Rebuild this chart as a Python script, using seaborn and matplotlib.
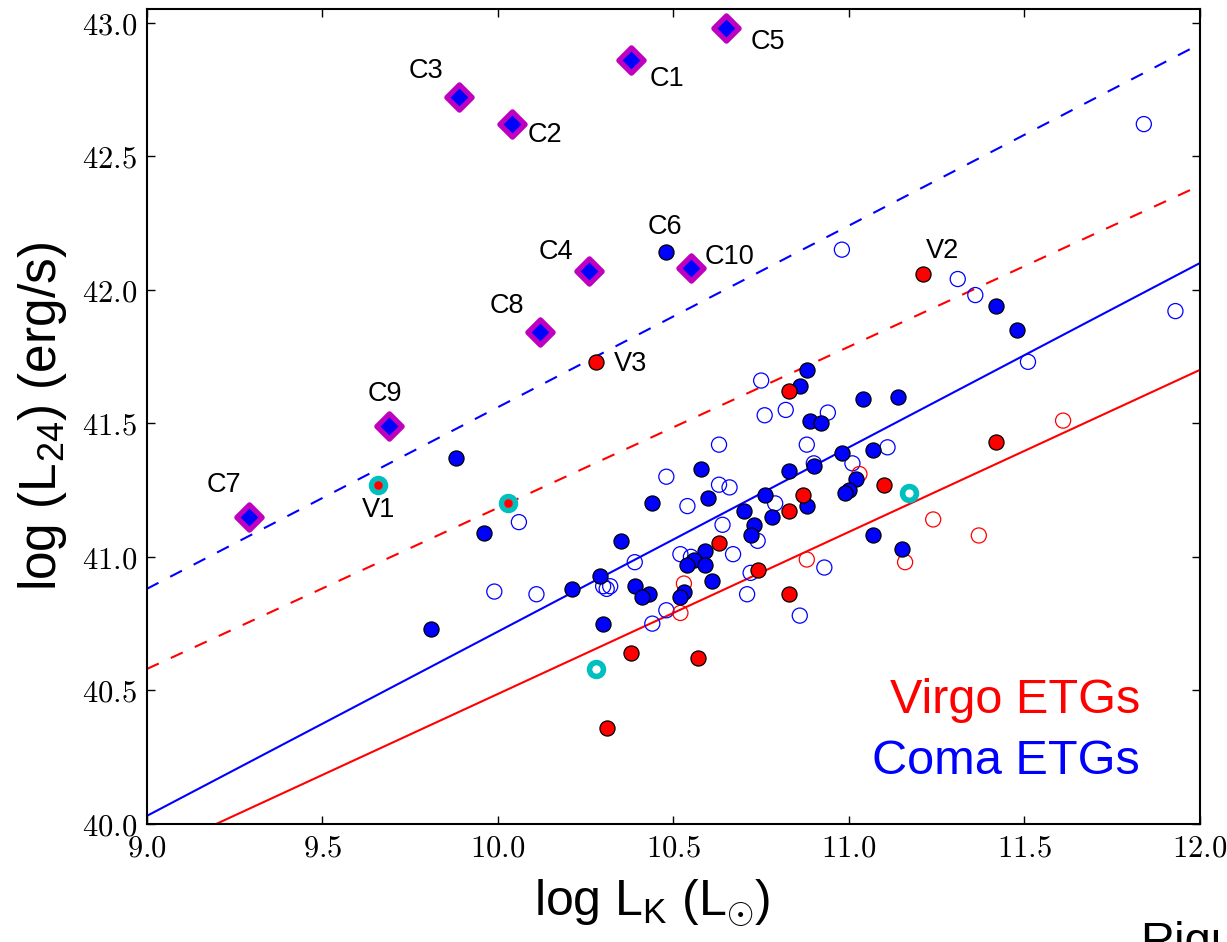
import numpy as np
import pandas as pd
import matplotlib
matplotlib.use("Agg")
import matplotlib.pyplot as plt
import seaborn as sns
from matplotlib.ticker import MultipleLocator, FuncFormatter

# ---------------- data ----------------
coma_filled_x = [10.48, 11.42, 11.48, 10.88, 10.86, 11.04, 11.14, 10.89, 10.92, 10.98,
                 11.07, 10.90, 10.83, 11.02, 11.00, 10.99, 10.58, 10.44, 10.60, 10.88,
                 10.76, 10.70, 10.78, 10.73, 10.72, 10.35, 11.07, 10.59, 10.56, 10.54,
                 10.59, 10.29, 10.21, 10.39, 10.43, 10.41, 10.61, 10.53, 10.52, 10.30,
                 9.81, 9.96, 9.88, 11.15]
coma_filled_y = [42.14, 41.94, 41.85, 41.70, 41.64, 41.59, 41.60, 41.51, 41.50, 41.39,
                 41.40, 41.34, 41.32, 41.29, 41.25, 41.24, 41.33, 41.20, 41.22, 41.19,
                 41.23, 41.17, 41.15, 41.12, 41.08, 41.06, 41.08, 41.02, 40.99, 40.97,
                 40.97, 40.93, 40.88, 40.89, 40.86, 40.85, 40.91, 40.87, 40.85, 40.75,
                 40.73, 41.09, 41.37, 41.03]

coma_open_x = [11.84, 10.98, 11.31, 11.36, 11.93, 11.51, 10.75, 10.76, 10.82, 10.94,
               10.63, 10.88, 10.90, 11.01, 11.11, 10.48, 10.63, 10.66, 10.54, 10.79,
               10.64, 10.74, 10.67, 10.39, 10.52, 10.55, 10.93, 10.72, 10.30, 10.32,
               10.31, 10.71, 10.48, 10.44, 10.86, 9.99, 10.11, 10.06]
coma_open_y = [42.62, 42.15, 42.04, 41.98, 41.92, 41.73, 41.66, 41.53, 41.55, 41.54,
               41.42, 41.42, 41.35, 41.35, 41.41, 41.30, 41.27, 41.26, 41.19, 41.20,
               41.12, 41.06, 41.01, 40.98, 41.01, 41.00, 40.96, 40.94, 40.89, 40.89,
               40.88, 40.86, 40.80, 40.75, 40.78, 40.87, 40.86, 41.13]

virgo_filled_x = [11.21, 10.28, 10.83, 11.42, 10.87, 11.10, 10.83, 10.63, 10.74, 10.83,
                  10.38, 10.57, 10.31]
virgo_filled_y = [42.06, 41.73, 41.62, 41.43, 41.23, 41.27, 41.17, 41.05, 40.95, 40.86,
                  40.64, 40.62, 40.36]

virgo_open_x = [11.61, 11.03, 11.24, 11.37, 11.16, 10.88, 10.53, 10.52]
virgo_open_y = [41.51, 41.31, 41.14, 41.08, 40.98, 40.99, 40.90, 40.79]

ring_x = [9.66, 10.03, 10.28, 11.17]
ring_y = [41.27, 41.20, 40.58, 41.24]
ring_centre_x = [9.66, 10.03]
ring_centre_y = [41.27, 41.20]

cg_x = [10.38, 10.04, 9.89, 10.26, 10.65, 9.29, 10.12, 9.69, 10.55]
cg_y = [42.86, 42.62, 42.72, 42.07, 42.98, 41.15, 41.84, 41.49, 42.08]

fit_x = [9.0, 12.0]
coma_fit_y = [40.03, 42.10]
virgo_fit_y = [39.88, 41.70]
coma_upper_y = [40.88, 42.92]
virgo_upper_y = [40.58, 42.39]

label_names = ["C1", "C2", "C3", "C4", "C5", "C6", "C7", "C8", "C9", "C10", "V1", "V2", "V3"]
label_x = [10.38, 10.04, 9.89, 10.26, 10.65, 10.48, 9.29, 10.12, 9.69, 10.55, 9.66, 11.21, 10.28]
label_y = [42.86, 42.62, 42.72, 42.07, 42.98, 42.14, 41.15, 41.84, 41.49, 42.08, 41.27, 42.06, 41.73]

# label offsets (points) -- layout only
label_offsets = [(26, -14), (24, -8), (-24, 19), (-24, 14), (30, -10), (-1, 18), (-18, 23),
                 (-24, 19), (-3, 23), (28, 8), (0, -18), (14, 16), (25, -1.5)]

# ---------------- style ----------------
sns.set_style("ticks")
plt.rcParams.update({
    "font.family": ["Liberation Sans", "DejaVu Sans"],
    "text.color": "black",
    "axes.labelcolor": "black",
    "xtick.color": "black", "ytick.color": "black",
    "mathtext.fontset": "cm",
    "mathtext.rm": "Liberation Sans",
    "mathtext.it": "Liberation Sans:italic",
    "mathtext.bf": "Liberation Sans:bold",
    "xtick.direction": "in", "ytick.direction": "in",
    "xtick.top": True, "ytick.right": True,
    "xtick.major.size": 6, "ytick.major.size": 6,
    "xtick.major.width": 1.0, "ytick.major.width": 1.0,
    "xtick.minor.visible": False, "ytick.minor.visible": False,
    "axes.linewidth": 1.5,
    "axes.edgecolor": "black",
    "lines.scale_dashes": False,
})

fig = plt.figure(figsize=(12.27, 9.42), dpi=100)
ax = fig.add_axes([0.1196, 0.1253, 0.8584, 0.8649])

# fit lines
for yv, col, ls in [(coma_fit_y, "blue", "-"), (virgo_fit_y, "red", "-"),
                    (coma_upper_y, "blue", "--"), (virgo_upper_y, "red", "--")]:
    sns.lineplot(x=fit_x, y=yv, color=col, linewidth=1.5, ax=ax, zorder=2)
    ln = ax.get_lines()[-1]
    if ls == "--":
        ln.set_linestyle((0, (9.5, 9.5)))

S = 118
sns.scatterplot(x=coma_open_x, y=coma_open_y, s=S, color="blue", facecolor="none",
                edgecolor="blue", linewidth=0.9, ax=ax, zorder=3)
sns.scatterplot(x=virgo_open_x, y=virgo_open_y, s=S, color="red", facecolor="none",
                edgecolor="red", linewidth=0.9, ax=ax, zorder=3)
sns.scatterplot(x=coma_filled_x, y=coma_filled_y, s=S, color="blue",
                edgecolor="black", linewidth=0.9, ax=ax, zorder=4)
sns.scatterplot(x=virgo_filled_x, y=virgo_filled_y, s=S, color="red",
                edgecolor="black", linewidth=0.9, ax=ax, zorder=4)
sns.scatterplot(x=ring_x, y=ring_y, s=100, color="white", edgecolor="c",
                linewidth=4.0, ax=ax, zorder=5)
sns.scatterplot(x=ring_centre_x, y=ring_centre_y, s=40, color="red",
                linewidth=0, ax=ax, zorder=6)
sns.scatterplot(x=cg_x, y=cg_y, marker="D", s=165, color="blue", edgecolor="m",
                linewidth=3.8, ax=ax, zorder=6)

for name, x, y, off in zip(label_names, label_x, label_y, label_offsets):
    ax.annotate(name, (x, y), xytext=off, textcoords="offset points",
                ha="center", va="center", fontsize=19.5, color="black", zorder=7)

ax.text(0.943, 0.136, "Virgo ETGs", color="red", fontsize=35, ha="right",
        va="baseline", transform=ax.transAxes)
ax.text(0.943, 0.0614, "Coma ETGs", color="blue", fontsize=35, ha="right",
        va="baseline", transform=ax.transAxes)

ax.set_xlim(9.0, 12.0)
ax.set_ylim(40.0, 43.05)
ax.xaxis.set_major_locator(MultipleLocator(0.5))
ax.yaxis.set_major_locator(MultipleLocator(0.5))
fmt = FuncFormatter(lambda v, p: f"${v:.1f}$")
ax.xaxis.set_major_formatter(fmt)
ax.yaxis.set_major_formatter(fmt)
ax.tick_params(axis="both", labelsize=22, pad=7, colors="black")
for sp in ax.spines.values():
    sp.set_visible(True)

ax.set_xlabel(r"log L$_{\mathrm{K}}$ (L$_{\odot}$)", fontsize=36, labelpad=10,
              math_fontfamily="custom")
ax.xaxis.label.set_x(0.48)
ax.set_ylabel(r"log (L$_{\mathrm{24}}$) (erg/s)", fontsize=37, labelpad=9,
              math_fontfamily="custom")

fig.text(1140 / 1227, -0.014, "Rigu", fontsize=34, ha="left", va="baseline")

fig.savefig("out.png", dpi=100)
